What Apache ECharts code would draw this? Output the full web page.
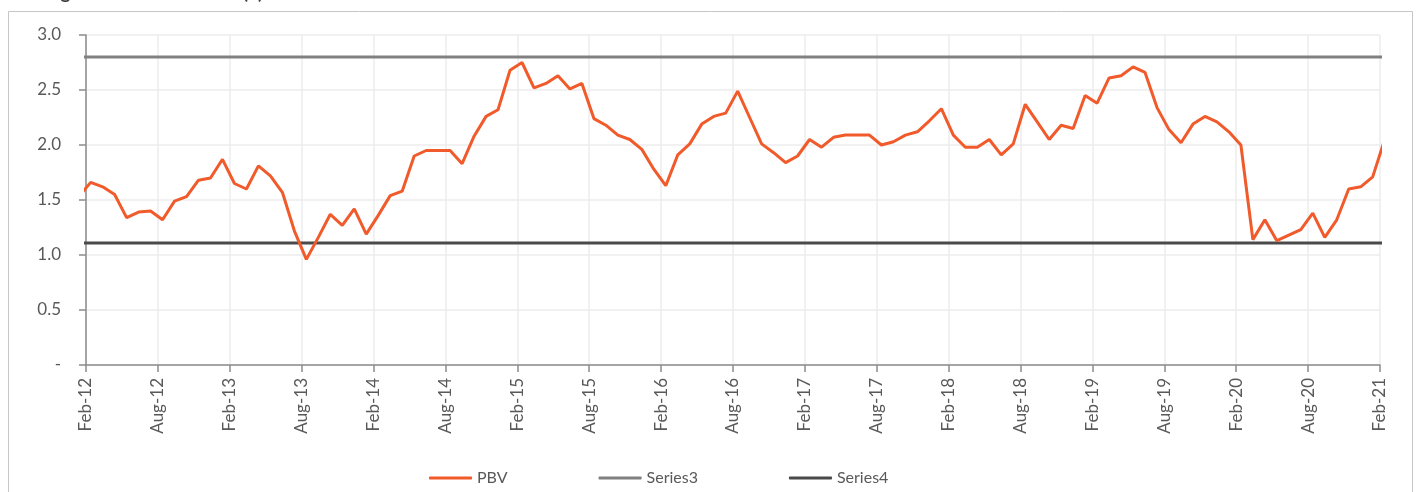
<!DOCTYPE html>
<html>
<head>
<meta charset="utf-8">
<script src="https://cdn.jsdelivr.net/npm/echarts@6/dist/echarts.min.js"></script>
<style>
  html, body { margin: 0; padding: 0; background: #fff; }
  #pbvChart { width: 1416px; height: 492px; }
</style>
</head>
<body>
<div id="pbvChart"></div>
<script>
  // monthly points, Jan-12 .. Feb-21 (first and last fall just outside the axis range)
  const firstMonth = { year: 2012, month: 0 };
  const pbv = [
    1.53, 1.66, 1.62, 1.55, 1.34, 1.39, 1.40, 1.32, 1.49, 1.53, 1.68, 1.70,
    1.87, 1.65, 1.60, 1.81, 1.72, 1.57, 1.22, 0.96, 1.16, 1.37, 1.27, 1.42,
    1.19, 1.36, 1.54, 1.58, 1.90, 1.95, 1.95, 1.95, 1.83, 2.08, 2.26, 2.32,
    2.68, 2.75, 2.52, 2.56, 2.63, 2.51, 2.56, 2.24, 2.18, 2.09, 2.05, 1.96,
    1.78, 1.63, 1.91, 2.01, 2.19, 2.26, 2.29, 2.49, 2.25, 2.01, 1.93, 1.84,
    1.90, 2.05, 1.98, 2.07, 2.09, 2.09, 2.09, 2.00, 2.03, 2.09, 2.12, 2.22,
    2.33, 2.09, 1.98, 1.98, 2.05, 1.91, 2.01, 2.37, 2.21, 2.05, 2.18, 2.15,
    2.45, 2.38, 2.61, 2.63, 2.71, 2.66, 2.34, 2.14, 2.02, 2.19, 2.26, 2.21,
    2.12, 2.00, 1.14, 1.32, 1.13, 1.18, 1.23, 1.38, 1.16, 1.32, 1.60, 1.62,
    1.71, 2.05
  ];
  const series3Level = 2.8;  // upper band
  const series4Level = 1.11; // lower band
  const tickLabels = [
    'Feb-12', 'Aug-12', 'Feb-13', 'Aug-13', 'Feb-14', 'Aug-14', 'Feb-15', 'Aug-15',
    'Feb-16', 'Aug-16', 'Feb-17', 'Aug-17', 'Feb-18', 'Aug-18', 'Feb-19', 'Aug-19',
    'Feb-20', 'Aug-20', 'Feb-21'
  ];
  const yLabels = { 0: '-', 0.5: '0.5', 1: '1.0', 1.5: '1.5', 2: '2.0', 2.5: '2.5', 3: '3.0' };

  // x = months since Feb-12; points sit a little after the month tick (date axis)
  const dayShift = 0.39;
  const xOf = i => (firstMonth.month + i) - 1 + dayShift;

  const pbvData = pbv.map((v, i) => [xOf(i), v]);
  const s3Data = pbv.map((v, i) => [xOf(i), series3Level]);
  const s4Data = pbv.map((v, i) => [xOf(i), series4Level]);

  const font = 'Lato, "Open Sans", sans-serif';
  const chart = echarts.init(document.getElementById('pbvChart'));
  chart.setOption({
    animation: false,
    textStyle: { fontFamily: font },
    graphic: [
      {
        type: 'rect', left: 6, top: 9, silent: true,
        shape: { width: 1404, height: 500 },
        style: { fill: 'none', stroke: '#c6c6c6', lineWidth: 1 }
      },
      {
        type: 'text', left: 8, top: -17, silent: true,
        style: { text: 'Trading band of sector PBV (x)', font: 'bold 19px ' + font, fill: '#404040' }
      }
    ],
    grid: { left: 86, right: 36, top: 35, bottom: 127 },
    legend: {
      left: 424, top: 465,
      itemGap: 91, itemWidth: 43, itemHeight: 3,
      icon: 'roundRect',
      textStyle: { fontSize: 16, color: '#595959', fontFamily: font },
      data: ['PBV', 'Series3', 'Series4']
    },
    xAxis: {
      type: 'value', min: 0, max: 108, interval: 6,
      axisLine: { lineStyle: { color: '#8c8c8c', width: 1.5 } },
      axisTick: { show: true, length: 7, lineStyle: { color: '#8c8c8c', width: 1.5 } },
      axisLabel: {
        rotate: 90, margin: 13, fontSize: 17, color: '#595959', fontFamily: font,
        formatter: v => tickLabels[Math.round(v / 6)] || ''
      },
      splitLine: { show: true, lineStyle: { color: '#ededed', width: 1.5 } }
    },
    yAxis: {
      type: 'value', min: 0, max: 3, interval: 0.5,
      axisLine: { show: true, lineStyle: { color: '#8c8c8c', width: 1.5 } },
      axisTick: { show: true, length: 7, lineStyle: { color: '#8c8c8c', width: 1.5 } },
      axisLabel: {
        margin: 25, fontSize: 17, color: '#595959', fontFamily: font,
        formatter: v => yLabels[v]
      },
      splitLine: { show: true, lineStyle: { color: '#ededed', width: 1.5 } }
    },
    series: [
      {
        name: 'PBV', type: 'line', data: pbvData, symbol: 'none', clip: true,
        lineStyle: { color: '#f15a2b', width: 3 }, itemStyle: { color: '#f15a2b' }, z: 4
      },
      {
        name: 'Series3', type: 'line', data: s3Data, symbol: 'none', clip: true,
        lineStyle: { color: '#808080', width: 3 }, itemStyle: { color: '#808080' }, z: 3
      },
      {
        name: 'Series4', type: 'line', data: s4Data, symbol: 'none', clip: true,
        lineStyle: { color: '#4a4a4a', width: 3 }, itemStyle: { color: '#4a4a4a' }, z: 3
      }
    ]
  });
</script>
</body>
</html>
